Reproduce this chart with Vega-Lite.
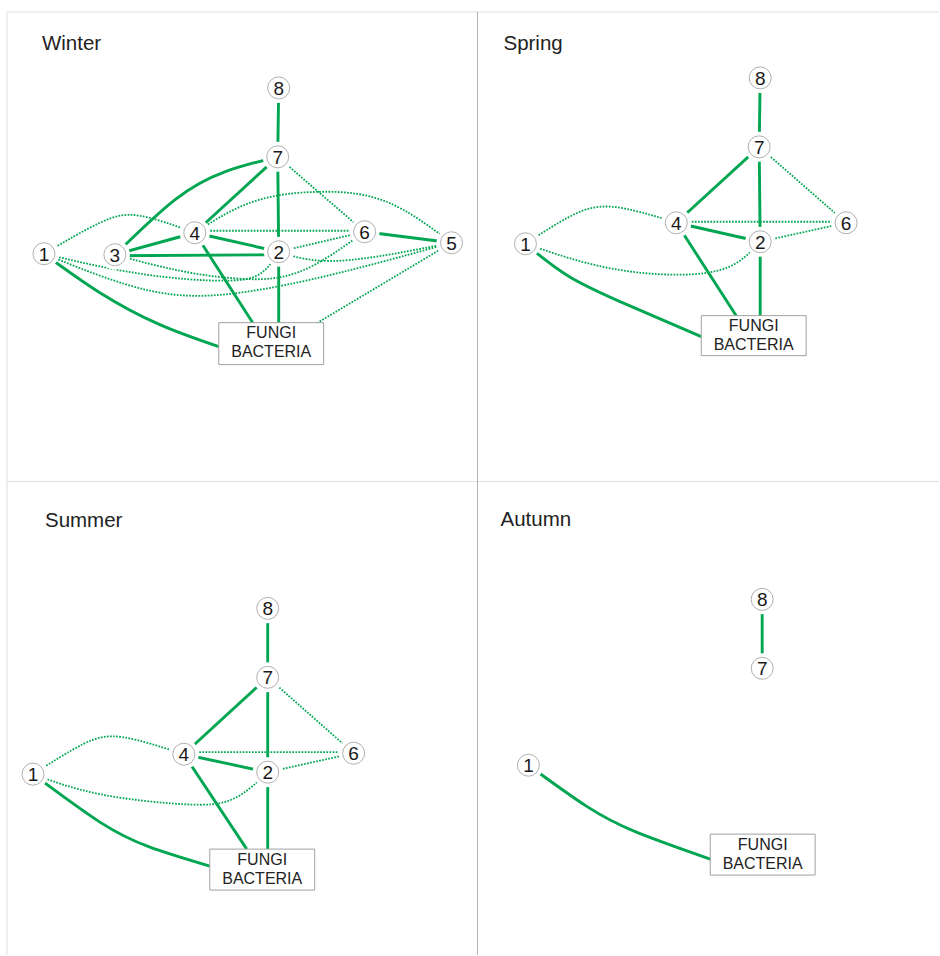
{
  "$schema": "https://vega.github.io/schema/vega-lite/v6.json",
  "width": 940,
  "height": 956,
  "autosize": {"type": "fit", "contains": "padding"},
  "padding": 0,
  "background": "white",
  "config": {"view": {"stroke": null}},
  "datasets": {
    "frame": [
      {"x": 7, "y": 12, "x2": 940, "y2": 12, "tone": "light"},
      {"x": 7, "y": 12, "x2": 7, "y2": 956, "tone": "light"},
      {"x": 7, "y": 482, "x2": 940, "y2": 482, "tone": "light"},
      {"x": 478, "y": 12, "x2": 478, "y2": 956, "tone": "dark"}
    ],
    "titles": [
      {"season": "Winter", "x": 42, "y": 50},
      {"season": "Spring", "x": 504, "y": 50},
      {"season": "Summer", "x": 45, "y": 528},
      {"season": "Autumn", "x": 501, "y": 527}
    ],
    "nodes": [
      {"season": "Winter", "node": "1", "x": 44, "y": 254},
      {"season": "Winter", "node": "2", "x": 279, "y": 252},
      {"season": "Winter", "node": "3", "x": 115, "y": 255},
      {"season": "Winter", "node": "4", "x": 195, "y": 233},
      {"season": "Winter", "node": "5", "x": 452, "y": 243},
      {"season": "Winter", "node": "6", "x": 365, "y": 232},
      {"season": "Winter", "node": "7", "x": 278, "y": 157},
      {"season": "Winter", "node": "8", "x": 279, "y": 88},
      {"season": "Spring", "node": "1", "x": 526, "y": 244},
      {"season": "Spring", "node": "2", "x": 761, "y": 242},
      {"season": "Spring", "node": "4", "x": 677, "y": 223},
      {"season": "Spring", "node": "6", "x": 847, "y": 223},
      {"season": "Spring", "node": "7", "x": 760, "y": 147},
      {"season": "Spring", "node": "8", "x": 761, "y": 78},
      {"season": "Summer", "node": "1", "x": 33, "y": 775},
      {"season": "Summer", "node": "2", "x": 268, "y": 773},
      {"season": "Summer", "node": "4", "x": 184, "y": 755},
      {"season": "Summer", "node": "6", "x": 354, "y": 754},
      {"season": "Summer", "node": "7", "x": 268, "y": 678},
      {"season": "Summer", "node": "8", "x": 268, "y": 609},
      {"season": "Autumn", "node": "1", "x": 529, "y": 766},
      {"season": "Autumn", "node": "7", "x": 763, "y": 669},
      {"season": "Autumn", "node": "8", "x": 763, "y": 600}
    ],
    "boxes": [
      {"season": "Winter", "label": "FUNGI\nBACTERIA", "x": 219, "y": 323, "x2": 324, "y2": 365, "cx": 271.5, "cy": 333.5},
      {"season": "Spring", "label": "FUNGI\nBACTERIA", "x": 702, "y": 316, "x2": 807, "y2": 356, "cx": 754.5, "cy": 326},
      {"season": "Summer", "label": "FUNGI\nBACTERIA", "x": 210, "y": 850, "x2": 315, "y2": 891, "cx": 262.5, "cy": 860.5},
      {"season": "Autumn", "label": "FUNGI\nBACTERIA", "x": 711, "y": 835, "x2": 816, "y2": 876, "cx": 763.5, "cy": 845.5}
    ],
    "edges": [
      {"edge": "W8-7", "kind": "solid", "order": 0, "x": 279, "y": 88},
      {"edge": "W8-7", "kind": "solid", "order": 1, "x": 278, "y": 157},
      {"edge": "W7-3", "kind": "solid", "order": 0, "x": 278, "y": 157},
      {"edge": "W7-3", "kind": "solid", "order": 1, "x": 225, "y": 172},
      {"edge": "W7-3", "kind": "solid", "order": 2, "x": 175, "y": 200},
      {"edge": "W7-3", "kind": "solid", "order": 3, "x": 115, "y": 255},
      {"edge": "W7-4", "kind": "solid", "order": 0, "x": 278, "y": 157},
      {"edge": "W7-4", "kind": "solid", "order": 1, "x": 195, "y": 233},
      {"edge": "W7-2", "kind": "solid", "order": 0, "x": 278, "y": 157},
      {"edge": "W7-2", "kind": "solid", "order": 1, "x": 279, "y": 252},
      {"edge": "W3-4", "kind": "solid", "order": 0, "x": 115, "y": 255},
      {"edge": "W3-4", "kind": "solid", "order": 1, "x": 195, "y": 233},
      {"edge": "W3-2", "kind": "solid", "order": 0, "x": 115, "y": 256},
      {"edge": "W3-2", "kind": "solid", "order": 1, "x": 279, "y": 255},
      {"edge": "W4-2", "kind": "solid", "order": 0, "x": 195, "y": 233},
      {"edge": "W4-2", "kind": "solid", "order": 1, "x": 279, "y": 252},
      {"edge": "W4-F", "kind": "solid", "order": 0, "x": 195, "y": 233},
      {"edge": "W4-F", "kind": "solid", "order": 1, "x": 253, "y": 323},
      {"edge": "W2-F", "kind": "solid", "order": 0, "x": 279, "y": 252},
      {"edge": "W2-F", "kind": "solid", "order": 1, "x": 279, "y": 323},
      {"edge": "W1-F", "kind": "solid", "order": 0, "x": 44, "y": 254},
      {"edge": "W1-F", "kind": "solid", "order": 1, "x": 100, "y": 293},
      {"edge": "W1-F", "kind": "solid", "order": 2, "x": 160, "y": 325},
      {"edge": "W1-F", "kind": "solid", "order": 3, "x": 219, "y": 347},
      {"edge": "W6-5", "kind": "solid", "order": 0, "x": 365, "y": 232},
      {"edge": "W6-5", "kind": "solid", "order": 1, "x": 452, "y": 243},
      {"edge": "W1-4", "kind": "dotted", "order": 0, "x": 44, "y": 254},
      {"edge": "W1-4", "kind": "dotted", "order": 1, "x": 100, "y": 223},
      {"edge": "W1-4", "kind": "dotted", "order": 2, "x": 140, "y": 216},
      {"edge": "W1-4", "kind": "dotted", "order": 3, "x": 195, "y": 233},
      {"edge": "W4-5", "kind": "dotted", "order": 0, "x": 195, "y": 233},
      {"edge": "W4-5", "kind": "dotted", "order": 1, "x": 253, "y": 202},
      {"edge": "W4-5", "kind": "dotted", "order": 2, "x": 320, "y": 192},
      {"edge": "W4-5", "kind": "dotted", "order": 3, "x": 387, "y": 202},
      {"edge": "W4-5", "kind": "dotted", "order": 4, "x": 452, "y": 243},
      {"edge": "W4-6", "kind": "dotted", "order": 0, "x": 195, "y": 231},
      {"edge": "W4-6", "kind": "dotted", "order": 1, "x": 365, "y": 231},
      {"edge": "W7-6", "kind": "dotted", "order": 0, "x": 278, "y": 157},
      {"edge": "W7-6", "kind": "dotted", "order": 1, "x": 365, "y": 232},
      {"edge": "W2-6", "kind": "dotted", "order": 0, "x": 279, "y": 252},
      {"edge": "W2-6", "kind": "dotted", "order": 1, "x": 365, "y": 232},
      {"edge": "W2-5", "kind": "dotted", "order": 0, "x": 279, "y": 252},
      {"edge": "W2-5", "kind": "dotted", "order": 1, "x": 340, "y": 261},
      {"edge": "W2-5", "kind": "dotted", "order": 2, "x": 452, "y": 243},
      {"edge": "W5-F", "kind": "dotted", "order": 0, "x": 452, "y": 243},
      {"edge": "W5-F", "kind": "dotted", "order": 1, "x": 318, "y": 323},
      {"edge": "W1-2", "kind": "dotted", "order": 0, "x": 44, "y": 254},
      {"edge": "W1-2", "kind": "dotted", "order": 1, "x": 140, "y": 274},
      {"edge": "W1-2", "kind": "dotted", "order": 2, "x": 225, "y": 281},
      {"edge": "W1-2", "kind": "dotted", "order": 3, "x": 262, "y": 273},
      {"edge": "W1-2", "kind": "dotted", "order": 4, "x": 279, "y": 252},
      {"edge": "W3-6", "kind": "dotted", "order": 0, "x": 115, "y": 255},
      {"edge": "W3-6", "kind": "dotted", "order": 1, "x": 180, "y": 271},
      {"edge": "W3-6", "kind": "dotted", "order": 2, "x": 240, "y": 279},
      {"edge": "W3-6", "kind": "dotted", "order": 3, "x": 300, "y": 272},
      {"edge": "W3-6", "kind": "dotted", "order": 4, "x": 365, "y": 232},
      {"edge": "W1-5", "kind": "dotted", "order": 0, "x": 44, "y": 254},
      {"edge": "W1-5", "kind": "dotted", "order": 1, "x": 150, "y": 291},
      {"edge": "W1-5", "kind": "dotted", "order": 2, "x": 240, "y": 293},
      {"edge": "W1-5", "kind": "dotted", "order": 3, "x": 340, "y": 273},
      {"edge": "W1-5", "kind": "dotted", "order": 4, "x": 452, "y": 243},
      {"edge": "S8-7", "kind": "solid", "order": 0, "x": 761, "y": 78},
      {"edge": "S8-7", "kind": "solid", "order": 1, "x": 760, "y": 147},
      {"edge": "S7-4", "kind": "solid", "order": 0, "x": 760, "y": 147},
      {"edge": "S7-4", "kind": "solid", "order": 1, "x": 677, "y": 223},
      {"edge": "S7-2", "kind": "solid", "order": 0, "x": 760, "y": 147},
      {"edge": "S7-2", "kind": "solid", "order": 1, "x": 761, "y": 242},
      {"edge": "S4-2", "kind": "solid", "order": 0, "x": 677, "y": 223},
      {"edge": "S4-2", "kind": "solid", "order": 1, "x": 761, "y": 242},
      {"edge": "S4-F", "kind": "solid", "order": 0, "x": 677, "y": 223},
      {"edge": "S4-F", "kind": "solid", "order": 1, "x": 737, "y": 316},
      {"edge": "S2-F", "kind": "solid", "order": 0, "x": 761, "y": 242},
      {"edge": "S2-F", "kind": "solid", "order": 1, "x": 761, "y": 316},
      {"edge": "S1-F", "kind": "solid", "order": 0, "x": 526, "y": 244},
      {"edge": "S1-F", "kind": "solid", "order": 1, "x": 570, "y": 277},
      {"edge": "S1-F", "kind": "solid", "order": 2, "x": 630, "y": 306},
      {"edge": "S1-F", "kind": "solid", "order": 3, "x": 702, "y": 337},
      {"edge": "S7-6", "kind": "dotted", "order": 0, "x": 760, "y": 147},
      {"edge": "S7-6", "kind": "dotted", "order": 1, "x": 847, "y": 223},
      {"edge": "S4-6", "kind": "dotted", "order": 0, "x": 677, "y": 222},
      {"edge": "S4-6", "kind": "dotted", "order": 1, "x": 847, "y": 222},
      {"edge": "S2-6", "kind": "dotted", "order": 0, "x": 761, "y": 242},
      {"edge": "S2-6", "kind": "dotted", "order": 1, "x": 847, "y": 223},
      {"edge": "S1-4", "kind": "dotted", "order": 0, "x": 526, "y": 244},
      {"edge": "S1-4", "kind": "dotted", "order": 1, "x": 570, "y": 217},
      {"edge": "S1-4", "kind": "dotted", "order": 2, "x": 613, "y": 207},
      {"edge": "S1-4", "kind": "dotted", "order": 3, "x": 677, "y": 223},
      {"edge": "S1-2", "kind": "dotted", "order": 0, "x": 526, "y": 244},
      {"edge": "S1-2", "kind": "dotted", "order": 1, "x": 603, "y": 267},
      {"edge": "S1-2", "kind": "dotted", "order": 2, "x": 677, "y": 275},
      {"edge": "S1-2", "kind": "dotted", "order": 3, "x": 730, "y": 267},
      {"edge": "S1-2", "kind": "dotted", "order": 4, "x": 761, "y": 242},
      {"edge": "U8-7", "kind": "solid", "order": 0, "x": 268, "y": 609},
      {"edge": "U8-7", "kind": "solid", "order": 1, "x": 268, "y": 678},
      {"edge": "U7-4", "kind": "solid", "order": 0, "x": 268, "y": 678},
      {"edge": "U7-4", "kind": "solid", "order": 1, "x": 184, "y": 755},
      {"edge": "U7-2", "kind": "solid", "order": 0, "x": 268, "y": 678},
      {"edge": "U7-2", "kind": "solid", "order": 1, "x": 268, "y": 773},
      {"edge": "U4-2", "kind": "solid", "order": 0, "x": 184, "y": 755},
      {"edge": "U4-2", "kind": "solid", "order": 1, "x": 268, "y": 773},
      {"edge": "U4-F", "kind": "solid", "order": 0, "x": 184, "y": 755},
      {"edge": "U4-F", "kind": "solid", "order": 1, "x": 247, "y": 850},
      {"edge": "U2-F", "kind": "solid", "order": 0, "x": 268, "y": 773},
      {"edge": "U2-F", "kind": "solid", "order": 1, "x": 268, "y": 850},
      {"edge": "U1-F", "kind": "solid", "order": 0, "x": 33, "y": 775},
      {"edge": "U1-F", "kind": "solid", "order": 1, "x": 100, "y": 823},
      {"edge": "U1-F", "kind": "solid", "order": 2, "x": 150, "y": 848},
      {"edge": "U1-F", "kind": "solid", "order": 3, "x": 210, "y": 867},
      {"edge": "U7-6", "kind": "dotted", "order": 0, "x": 268, "y": 678},
      {"edge": "U7-6", "kind": "dotted", "order": 1, "x": 354, "y": 754},
      {"edge": "U4-6", "kind": "dotted", "order": 0, "x": 184, "y": 753},
      {"edge": "U4-6", "kind": "dotted", "order": 1, "x": 354, "y": 753},
      {"edge": "U2-6", "kind": "dotted", "order": 0, "x": 268, "y": 773},
      {"edge": "U2-6", "kind": "dotted", "order": 1, "x": 354, "y": 754},
      {"edge": "U1-4", "kind": "dotted", "order": 0, "x": 33, "y": 775},
      {"edge": "U1-4", "kind": "dotted", "order": 1, "x": 83, "y": 745},
      {"edge": "U1-4", "kind": "dotted", "order": 2, "x": 123, "y": 738},
      {"edge": "U1-4", "kind": "dotted", "order": 3, "x": 184, "y": 755},
      {"edge": "U1-2", "kind": "dotted", "order": 0, "x": 33, "y": 775},
      {"edge": "U1-2", "kind": "dotted", "order": 1, "x": 100, "y": 795},
      {"edge": "U1-2", "kind": "dotted", "order": 2, "x": 183, "y": 805},
      {"edge": "U1-2", "kind": "dotted", "order": 3, "x": 233, "y": 800},
      {"edge": "U1-2", "kind": "dotted", "order": 4, "x": 268, "y": 773},
      {"edge": "A8-7", "kind": "solid", "order": 0, "x": 763, "y": 600},
      {"edge": "A8-7", "kind": "solid", "order": 1, "x": 763, "y": 669},
      {"edge": "A1-F", "kind": "solid", "order": 0, "x": 529, "y": 766},
      {"edge": "A1-F", "kind": "solid", "order": 1, "x": 587, "y": 807},
      {"edge": "A1-F", "kind": "solid", "order": 2, "x": 637, "y": 833},
      {"edge": "A1-F", "kind": "solid", "order": 3, "x": 711, "y": 860}
    ]
  },
  "encoding": {
    "x": {"field": "x", "type": "quantitative", "scale": {"domain": [0, 940], "nice": false, "zero": false}, "axis": null},
    "y": {"field": "y", "type": "quantitative", "scale": {"domain": [0, 956], "nice": false, "zero": false, "reverse": true}, "axis": null}
  },
  "layer": [
    {
      "data": {"name": "frame"},
      "mark": {"type": "rule", "strokeWidth": 1},
      "encoding": {
        "x2": {"field": "x2"},
        "y2": {"field": "y2"},
        "color": {"field": "tone", "type": "nominal", "scale": {"domain": ["light", "dark"], "range": ["#dedede", "#b4b4b4"]}, "legend": null}
      }
    },
    {
      "data": {"name": "edges"},
      "transform": [{"filter": "datum.kind === 'dotted'"}],
      "mark": {"type": "line", "interpolate": "natural", "stroke": "#00a651", "strokeWidth": 1.8, "strokeDash": [1.7, 1.4]},
      "encoding": {
        "detail": {"field": "edge"},
        "order": {"field": "order", "type": "quantitative"}
      }
    },
    {
      "data": {"name": "edges"},
      "transform": [{"filter": "datum.kind === 'solid'"}],
      "mark": {"type": "line", "interpolate": "natural", "stroke": "#00a651", "strokeWidth": 2.9},
      "encoding": {
        "detail": {"field": "edge"},
        "order": {"field": "order", "type": "quantitative"}
      }
    },
    {
      "data": {"name": "nodes"},
      "mark": {"type": "point", "shape": "circle", "filled": true, "color": "white", "fill": "white", "opacity": 1, "fillOpacity": 1, "size": 900, "strokeWidth": 0},
      "encoding": {}
    },
    {
      "data": {"name": "nodes"},
      "mark": {"type": "point", "shape": "circle", "filled": false, "fill": "white", "fillOpacity": 1, "stroke": "#b0b0b0", "strokeWidth": 1, "opacity": 1, "size": 484},
      "encoding": {}
    },
    {
      "data": {"name": "nodes"},
      "mark": {"type": "text", "font": "Liberation Sans", "fontSize": 19, "color": "#1a1a1a", "align": "center", "baseline": "middle", "dy": 1},
      "encoding": {"text": {"field": "node"}}
    },
    {
      "data": {"name": "boxes"},
      "mark": {"type": "rect", "fill": "white", "stroke": "#a0a0a0", "strokeWidth": 1},
      "encoding": {
        "x2": {"field": "x2"},
        "y2": {"field": "y2"}
      }
    },
    {
      "data": {"name": "boxes"},
      "mark": {"type": "text", "font": "Liberation Sans", "fontSize": 16, "lineHeight": 19, "lineBreak": "\n", "color": "#222222", "align": "center", "baseline": "middle"},
      "encoding": {
        "x": {"field": "cx", "type": "quantitative"},
        "y": {"field": "cy", "type": "quantitative"},
        "text": {"field": "label"}
      }
    },
    {
      "data": {"name": "titles"},
      "mark": {"type": "text", "font": "Liberation Sans", "fontSize": 20.5, "color": "#222222", "align": "left", "baseline": "alphabetic"},
      "encoding": {"text": {"field": "season"}}
    }
  ]
}
